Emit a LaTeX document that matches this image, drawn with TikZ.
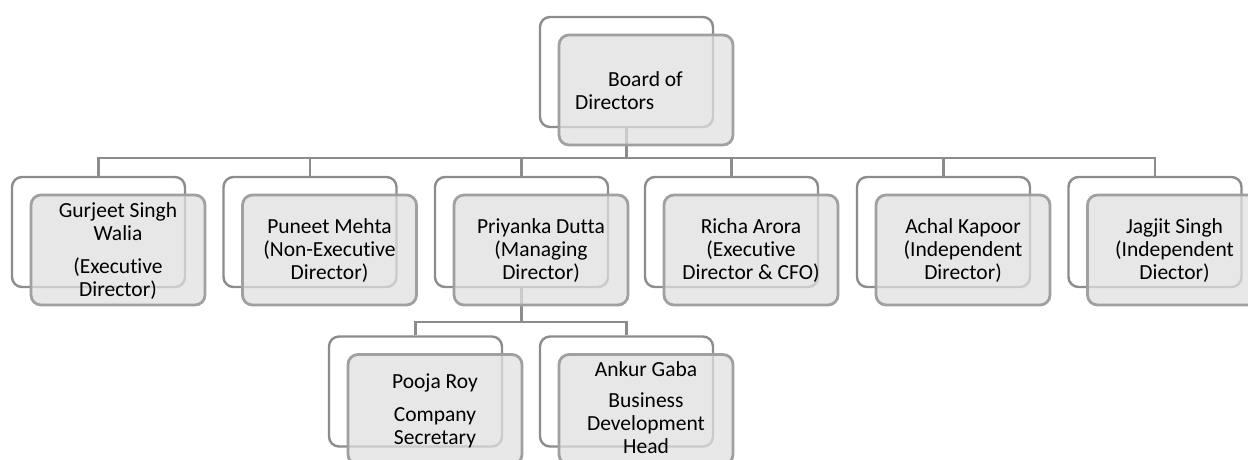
\documentclass[tikz,border=0pt]{standalone}
\usepackage{fontspec}
\setmainfont{Carlito}[Ligatures=NoCommon]
\usetikzlibrary{calc}
\definecolor{backline}{HTML}{8C8C8C}
\definecolor{frontline}{HTML}{A0A0A0}
\definecolor{frontfill}{HTML}{E0E0E0}
\definecolor{conn}{HTML}{8C8C8C}
\tikzset{
  backbox/.style={draw=backline, line width=2.4pt, fill=white, rounded corners=10pt,
    minimum width=173pt, minimum height=110pt, inner sep=0pt},
  frontbox/.style={draw=frontline, line width=2.8pt, fill=frontfill, fill opacity=0.75,
    rounded corners=10pt, minimum width=174pt, minimum height=110pt, inner sep=0pt},
  boxtext/.style={align=center, font=\fontsize{21.5}{23}\selectfont, inner sep=0pt, text=black},
  connector/.style={draw=conn, line width=2.8pt},
}
\begin{document}
\begin{tikzpicture}[x=1pt,y=-1pt]
\useasboundingbox (0,0) rectangle (1248,459);
\clip (0,0) rectangle (1248,459);
% back boxes
\node[backbox] (bb) at (626.5,72) {};
\node[backbox] (c1b) at (98.5,232) {};
\node[backbox] (c2b) at (310,232) {};
\node[backbox] (c3b) at (521.5,232) {};
\node[backbox] (c4b) at (731.5,232) {};
\node[backbox] (c5b) at (943.5,232) {};
\node[backbox] (c6b) at (1155,232) {};
\node[backbox] (s1b) at (415.5,391.5) {};
\node[backbox] (s2b) at (626.5,391.5) {};
% connectors
\coordinate (busA) at (626.5,158);
\coordinate (busB) at (521.5,322);
\draw[connector] (bb.south) -- (busA);
\foreach \c in {c1b,c2b,c3b,c4b,c5b,c6b}{\draw[connector] (busA) -| (\c.north);}
\draw[connector] (c3b.south) -- (busB);
\foreach \c in {s1b,s2b}{\draw[connector] (busB) -| (\c.north);}
% front boxes
\node[frontbox] (bf) at ($(bb)+(19.5,18)$) {};
\node[frontbox] (c1f) at ($(c1b)+(19.5,18)$) {};
\node[frontbox] (c2f) at ($(c2b)+(19.5,18)$) {};
\node[frontbox] (c3f) at ($(c3b)+(19.5,18)$) {};
\node[frontbox] (c4f) at ($(c4b)+(19.5,18)$) {};
\node[frontbox] (c5f) at ($(c5b)+(19.5,18)$) {};
\node[frontbox] (c6f) at ($(c6b)+(19.5,18)$) {};
\node[frontbox] (s1f) at ($(s1b)+(19.5,18)$) {};
\node[frontbox] (s2f) at ($(s2b)+(19.5,18)$) {};
% texts
\node[boxtext, align=left] (bt) at ($(bf)+(-17,1)$) {\hspace*{33pt}Board of\\Directors};
\node[boxtext] (c1t) at ($(c1f)+(0,1)$) {Gurjeet Singh\\Walia\\[10pt](Executive\\Director)};
\node[boxtext] (c2t) at ($(c2f)+(0,1)$) {Puneet Mehta\\(Non-Executive\\Director)};
\node[boxtext] (c3t) at ($(c3f)+(0,1)$) {Priyanka Dutta\\(Managing\\Director)};
\node[boxtext] (c4t) at ($(c4f)+(0,1)$) {Richa Arora\\(Executive\\Director \& CFO)};
\node[boxtext] (c5t) at ($(c5f)+(0,1)$) {Achal Kapoor\\(Independent\\Director)};
\node[boxtext] (c6t) at ($(c6f)+(0,1)$) {Jagjit Singh\\(Independent\\Diector)};
\node[boxtext] (s1t) at ($(s1f)+(0,1)$) {Pooja Roy\\[10pt]Company\\Secretary};
\node[boxtext] (s2t) at ($(s2f)+(0,-2)$) {Ankur Gaba\\[8pt]Business\\Development\\Head};
\end{tikzpicture}
\end{document}
